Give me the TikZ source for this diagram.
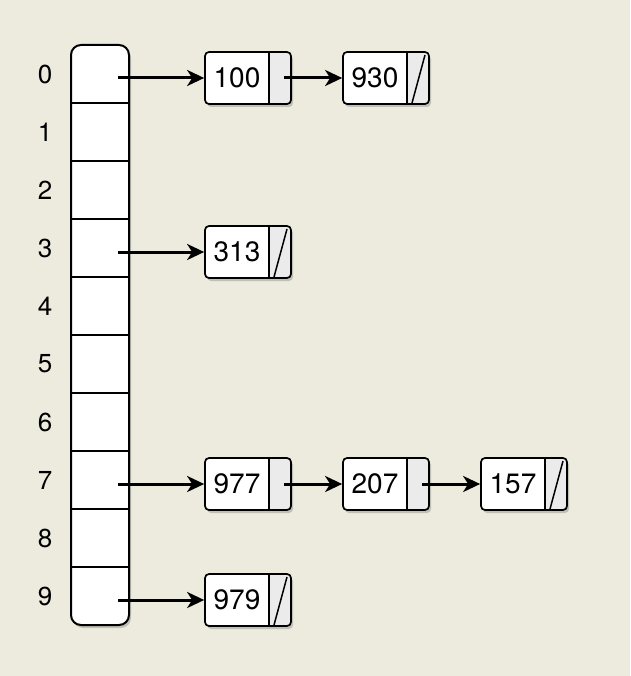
\documentclass[tikz,border=0pt]{standalone}
\usepackage{fontspec}
\setmainfont{TeX Gyre Heros}
\usetikzlibrary{arrows.meta,shadows}
\definecolor{bgc}{RGB}{236,235,222}
\definecolor{ptrgray}{RGB}{235,235,235}
\begin{document}
\begin{tikzpicture}[x=1pt,y=-1pt,
  shadowed/.style={drop shadow={shadow xshift=2pt,shadow yshift=-3pt,opacity=0.18,fill=black}},
  arraybox/.style={draw=black,line width=2pt,fill=white,rounded corners=10pt,shadowed},
  rowline/.style={draw=black,line width=1.8pt},
  idx/.style={font=\fontsize{26}{30}\selectfont,inner sep=0pt},
  listbox/.style={draw=black,line width=1.7pt,fill=white,rounded corners=4pt,shadowed,
    minimum width=86pt,minimum height=52pt,inner sep=0pt,
    font=\fontsize{28}{32}\selectfont,
    path picture={
      \fill[ptrgray] ([xshift=-22pt]path picture bounding box.north east) rectangle (path picture bounding box.south east);
      \draw[line width=1.7pt] ([xshift=-22pt]path picture bounding box.north east) -- ([xshift=-22pt]path picture bounding box.south east);}},
  listnull/.style={listbox,
    path picture={
      \fill[ptrgray] ([xshift=-22pt]path picture bounding box.north east) rectangle (path picture bounding box.south east);
      \draw[line width=1.7pt] ([xshift=-22pt]path picture bounding box.north east) -- ([xshift=-22pt]path picture bounding box.south east);
      \draw[line width=1.5pt] ([xshift=-17pt,yshift=1pt]path picture bounding box.south east) -- ([xshift=-4pt,yshift=-3pt]path picture bounding box.north east);}},
  ptr/.style={draw=black,line width=3pt,-{Stealth[length=17pt,width=16pt,inset=5pt]}}
]
\fill[bgc] (0,0) rectangle (630,676);
\useasboundingbox (0,0) rectangle (630,676);

% array
\node[arraybox,minimum width=58pt,minimum height=580pt,inner sep=0pt] (arr) at (100,335) {};
\foreach \k in {0,...,8} {
  \draw[rowline] (71,103+58*\k) -- (129,103+58*\k);
}
\foreach \k in {0,...,9} {
  \node[idx] (i\k) at (45,74+58*\k) {\k};
  \coordinate (c\k) at (118,78+58*\k);
}

% list nodes
\node[listbox]  (n100) at (248,78)  {\makebox[64pt]{100}\hspace*{22pt}};
\node[listnull] (n930) at (386,78)  {\makebox[64pt]{930}\hspace*{22pt}};
\node[listnull] (n313) at (248,252) {\makebox[64pt]{313}\hspace*{22pt}};
\node[listbox]  (n977) at (248,484) {\makebox[64pt]{977}\hspace*{22pt}};
\node[listbox]  (n207) at (386,484) {\makebox[64pt]{207}\hspace*{22pt}};
\node[listnull] (n157) at (524,484) {\makebox[64pt]{157}\hspace*{22pt}};
\node[listnull] (n979) at (248,600) {\makebox[64pt]{979}\hspace*{22pt}};

\coordinate (p100) at ([xshift=-8pt]n100.east);
\coordinate (p977) at ([xshift=-8pt]n977.east);
\coordinate (p207) at ([xshift=-8pt]n207.east);

\draw[ptr] (c0) -- (n100.west);
\draw[ptr] (c3) -- (n313.west);
\draw[ptr] (c7) -- (n977.west);
\draw[ptr] (c9) -- (n979.west);
\draw[ptr] (p100) -- (n930.west);
\draw[ptr] (p977) -- (n207.west);
\draw[ptr] (p207) -- (n157.west);
\end{tikzpicture}
\end{document}
